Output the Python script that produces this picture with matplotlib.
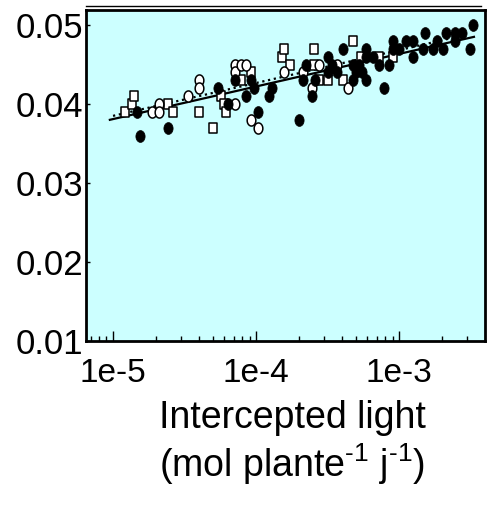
import matplotlib
matplotlib.use('Agg')
import matplotlib.pyplot as plt
import numpy as np
from matplotlib.path import Path
from matplotlib.ticker import FixedLocator, FixedFormatter, FormatStrFormatter

plt.rcParams['font.family'] = ['Liberation Sans', 'DejaVu Sans']
plt.rcParams['mathtext.fontset'] = 'custom'
plt.rcParams['mathtext.rm'] = 'Liberation Sans'
plt.rcParams['mathtext.it'] = 'Liberation Sans:italic'

# open squares
sq_x = [1.21e-5, 1.35e-5, 1.40e-5, 2.43e-5, 2.63e-5, 3.99e-5, 4.96e-5, 5.65e-5,
        5.97e-5, 6.17e-5, 7.80e-5, 9.16e-5, 1.52e-4, 1.57e-4, 1.73e-4, 2.55e-4,
        2.55e-4, 2.74e-4, 3.16e-4, 4.03e-4, 4.77e-4, 5.42e-4, 7.24e-4, 9.12e-4]
sq_y = [0.039, 0.040, 0.041, 0.040, 0.039, 0.039, 0.037, 0.041,
        0.040, 0.039, 0.043, 0.044, 0.046, 0.047, 0.045, 0.047,
        0.045, 0.043, 0.043, 0.043, 0.048, 0.046, 0.046, 0.046]

# open circles
oc_x = [1.87e-5, 2.11e-5, 2.11e-5, 3.35e-5, 3.99e-5, 3.99e-5, 7.13e-5, 7.13e-5,
        7.80e-5, 8.51e-5, 7.13e-5, 9.16e-5, 1.04e-4, 1.57e-4, 2.13e-4, 2.47e-4,
        2.74e-4, 3.71e-4, 4.40e-4]
oc_y = [0.039, 0.040, 0.039, 0.041, 0.043, 0.042, 0.045, 0.044,
        0.045, 0.045, 0.040, 0.038, 0.037, 0.044, 0.044, 0.042,
        0.045, 0.045, 0.042]

# filled circles
fc_x = [1.47e-5, 1.55e-5, 2.43e-5, 5.42e-5, 6.37e-5, 7.13e-5, 8.51e-5, 9.16e-5,
        9.69e-5, 1.04e-4, 1.24e-4, 1.29e-4, 2.01e-4, 2.13e-4, 2.24e-4, 2.47e-4,
        2.60e-4, 3.16e-4, 3.16e-4, 3.40e-4, 3.71e-4, 4.03e-4, 4.77e-4, 4.77e-4,
        5.00e-4, 5.25e-4, 5.50e-4, 5.87e-4, 5.87e-4, 5.87e-4, 6.58e-4, 7.24e-4,
        7.86e-4, 8.51e-4, 9.12e-4, 9.12e-4, 1.00e-3, 1.12e-3, 1.25e-3, 1.25e-3,
        1.47e-3, 1.52e-3, 1.73e-3, 1.85e-3, 2.04e-3, 2.13e-3, 2.47e-3, 2.47e-3,
        2.76e-3, 3.11e-3, 3.29e-3]
fc_y = [0.039, 0.036, 0.037, 0.042, 0.040, 0.043, 0.041, 0.043,
        0.042, 0.039, 0.041, 0.042, 0.038, 0.043, 0.045, 0.041,
        0.043, 0.046, 0.044, 0.045, 0.044, 0.047, 0.043, 0.045,
        0.044, 0.045, 0.044, 0.043, 0.047, 0.046, 0.046, 0.045,
        0.042, 0.045, 0.048, 0.047, 0.047, 0.048, 0.048, 0.046,
        0.047, 0.049, 0.047, 0.048, 0.047, 0.049, 0.049, 0.048,
        0.049, 0.047, 0.050]

# regression lines
fit_x = [9.5e-6, 3.34e-3]
fit_y = [0.0380, 0.0485]
fit2_x = [1.0e-5, 2.4e-3]
fit2_y = [0.0385, 0.0484]

x_ticks = [1e-5, 1e-4, 1e-3]
x_ticklabels = ['1e-5', '1e-4', '1e-3']
y_ticks = [0.01, 0.02, 0.03, 0.04, 0.05]

# slightly tall markers, like the original
t = np.linspace(0, 2 * np.pi, 60)
ellipse = Path(np.column_stack([0.78 * np.cos(t), np.sin(t)]), closed=True)
rect = Path([(-0.75, -1), (0.75, -1), (0.75, 1), (-0.75, 1), (-0.75, -1)], closed=True)

fig = plt.figure(figsize=(4.88, 5.17), dpi=100)
ax = fig.add_axes([86 / 488, (517 - 341) / 517, 399 / 488, 331 / 517])
ax.set_facecolor('#ccffff')

ax.plot(fit_x, fit_y, '-', color='black', lw=1.6, zorder=2)
ax.plot(fit2_x, fit2_y, ':', color='black', lw=1.6, zorder=2)
ax.plot(sq_x, sq_y, ls='none', marker=rect, ms=7.5, mfc='white', mec='black', mew=1.1, zorder=3)
ax.plot(oc_x, oc_y, ls='none', marker=ellipse, ms=8, mfc='white', mec='black', mew=1.1, zorder=3)
ax.plot(fc_x, fc_y, ls='none', marker=ellipse, ms=8.5, mfc='black', mec='black', mew=0.5, zorder=4)

ax.set_xscale('log')
ax.set_xlim(6.47e-6, 3.99e-3)
ax.set_ylim(0.01, 0.0519)
ax.xaxis.set_major_locator(FixedLocator(x_ticks))
ax.xaxis.set_major_formatter(FixedFormatter(x_ticklabels))
ax.set_yticks(y_ticks)
ax.yaxis.set_major_formatter(FormatStrFormatter('%.2f'))

ax.tick_params(axis='both', which='major', direction='in', width=1)
ax.tick_params(axis='x', which='major', length=7, pad=12, labelsize=24)
ax.tick_params(axis='x', which='minor', direction='in', length=3.5, width=1)
ax.tick_params(axis='y', which='major', length=3, pad=2, labelsize=25)
ax.tick_params(axis='y', which='minor', length=0)

for s in ax.spines.values():
    s.set_linewidth(2)

# the thin double line above the frame
ax.plot([0, 0.99], [1.012, 1.012], transform=ax.transAxes, color='black', lw=1, clip_on=False)

fig.text(0.600, (517 - 428) / 517, 'Intercepted light', ha='center', va='baseline', fontsize=27)
fig.text(0.598, (517 - 477) / 517, r'(mol plante$^{\text{-1}}$ j$^{\text{-1}}$)',
         ha='center', va='baseline', fontsize=27)

fig.savefig('out.png', dpi=100)
